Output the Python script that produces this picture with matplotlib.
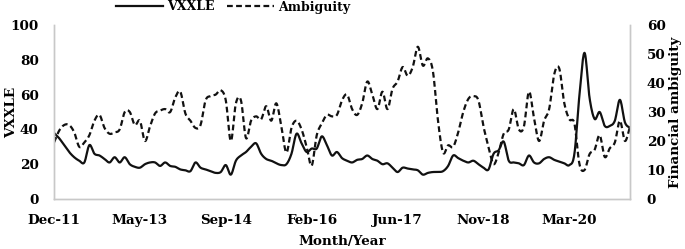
import numpy as np
import matplotlib
matplotlib.use("Agg")
import matplotlib.pyplot as plt
from matplotlib.lines import Line2D

plt.rcParams['font.family'] = ['DejaVu Serif']
plt.rcParams['font.weight'] = 'bold'

tick_labels = ["Dec-11", "May-13", "Sep-14", "Feb-16", "Jun-17", "Nov-18", "Mar-20"]
tick_step = 17

vxxle = [38, 35, 31, 27, 24, 22, 21, 31, 26, 25,
         23, 21, 24, 21, 24, 20, 18.5, 18, 20, 21,
         21, 19, 21, 19, 18.5, 17, 16.5, 16, 21, 18,
         17, 16, 15, 15.5, 19.5, 14, 22, 25, 27, 30,
         32, 26, 23, 22, 20.5, 19.5, 20, 26, 37.5, 32,
         27, 29, 29, 36, 31, 25, 27, 23.5, 22, 21,
         22.5, 23, 25, 23, 22, 20, 20.5, 18, 15.5, 18,
         17.5, 17, 16.5, 14, 15, 15.5, 15.5, 16, 19, 25,
         23.5, 22, 21, 22, 20, 18, 17, 26, 28, 33,
         22, 21, 20.5, 19.5, 25, 21, 20.5, 23, 24, 22.5,
         21.5, 20.5, 19.5, 26, 60, 84, 58, 46, 50, 42,
         42, 45, 57, 44, 41]

ambiguity = [19.5, 23.5, 25.5, 25.5, 23, 18, 19.5, 22, 27, 29,
             24.5, 22.5, 23, 24, 30, 30, 25.5, 27, 20, 25,
             29.5, 30.5, 31, 30, 35, 37, 29.5, 27, 24.5, 25.5,
             34, 35.5, 36, 37.5, 34, 20, 33, 34, 21, 27,
             28.5, 27.5, 32, 27, 33, 25, 16, 24.5, 27, 24,
             18, 11.5, 22, 26, 29, 28.5, 29, 34, 36, 31,
             29, 33, 40.5, 36, 31, 37, 31, 38, 40.5, 45.5,
             42.5, 45.5, 52.5, 46, 48.5, 44, 27, 16, 18.5, 18,
             23, 30, 34.5, 35.5, 34, 25, 18, 12, 16, 22.5,
             24, 31, 24, 25, 37, 28, 20, 27, 31, 43,
             45, 33, 27.5, 26, 12, 10, 15.5, 17, 22, 14.5,
             17.5, 19.5, 27, 20, 25]


def smooth(y, n=12):
    y = np.asarray(y, float)
    x = np.arange(len(y), dtype=float)
    xp = np.concatenate([[x[0]], x, [x[-1]]])
    yp = np.concatenate([[y[0]], y, [y[-1]]])
    xs, ys = [], []
    t = np.linspace(0, 1, n, endpoint=False)
    for i in range(1, len(xp) - 2):
        p0x, p1x, p2x, p3x = xp[i-1], xp[i], xp[i+1], xp[i+2]
        p0, p1, p2, p3 = yp[i-1], yp[i], yp[i+1], yp[i+2]
        c1x, c1 = p1x + (p2x - p0x) / 6, p1 + (p2 - p0) / 6
        c2x, c2 = p2x - (p3x - p1x) / 6, p2 - (p3 - p1) / 6
        b = lambda a0, a1, a2, a3: ((1-t)**3*a0 + 3*(1-t)**2*t*a1 + 3*(1-t)*t**2*a2 + t**3*a3)
        xs.append(b(p1x, c1x, c2x, p2x))
        ys.append(b(p1, c1, c2, p2))
    xs.append([x[-1]]); ys.append([y[-1]])
    return np.concatenate(xs), np.concatenate(ys)


W, H = 685, 249
fig = plt.figure(figsize=(W/100, H/100), dpi=100)
ax = fig.add_axes([54/W, 1-199/H, 576/W, 174/H])
ax2 = ax.twinx()

DASH = (2.6, 1.5)
sx, sy = smooth(vxxle)
ax.plot(sx, sy, color='#111111', lw=1.6)
ax2x, ax2y = smooth(ambiguity)
ax2.plot(ax2x, ax2y, color='#111111', lw=1.6, dashes=DASH)

n = len(vxxle)
ax.set_xlim(0, n - 1)
ax.set_ylim(0, 100)
ax2.set_ylim(0, 60)
ax.set_yticks(range(0, 101, 20))
ax2.set_yticks(range(0, 61, 10))
ax.set_xticks(range(0, tick_step * len(tick_labels), tick_step))
ax.set_xticklabels(tick_labels)

FS = 9.7
for a in (ax, ax2):
    for s in a.spines.values():
        s.set_color('#c8c8c8')
        s.set_linewidth(1.0)
    a.spines['top'].set_visible(False)
    a.tick_params(length=0, labelsize=FS)
ax.tick_params(axis='x', pad=11)
ax.tick_params(axis='y', pad=11)
ax2.tick_params(axis='y', pad=12)

fig.text(12/W, 1-112/H, "VXXLE", rotation=90, ha='center', va='center',
         fontsize=FS, fontweight='bold')
fig.text(676/W, 1-112/H, "Financial ambiguity", rotation=90, ha='center', va='center',
         fontsize=FS, fontweight='bold')
fig.text(342/W, 1-241/H, "Month/Year", ha='center', va='center',
         fontsize=FS, fontweight='bold')

handles = [Line2D([], [], color='#111111', lw=1.6),
           Line2D([], [], color='#111111', lw=1.6, dashes=DASH)]
fig.legend(handles, ["VXXLE", "Ambiguity"], loc='center',
           bbox_to_anchor=(233/W, 1-7/H), ncol=2, frameon=False,
           fontsize=9, handlelength=3.8, columnspacing=1.0, handletextpad=0.3,
           borderpad=0, borderaxespad=0)

fig.savefig("out.png", dpi=100)
